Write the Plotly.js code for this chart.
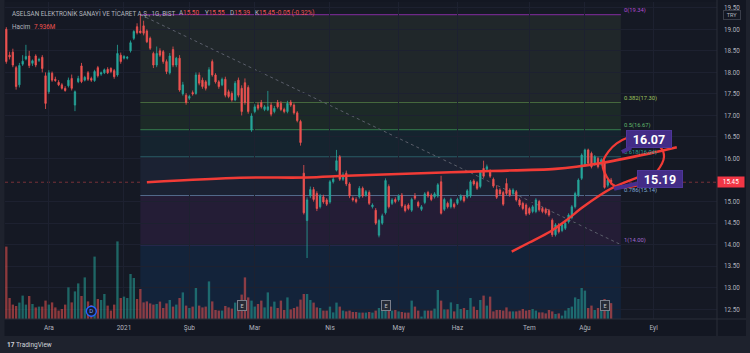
<!DOCTYPE html>
<html><head><meta charset="utf-8">
<script src="https://cdn.plot.ly/plotly-3.0.1.min.js"></script>
<style>html,body{margin:0;padding:0;background:#131722;overflow:hidden}#chart{width:750px;height:353px}</style>
</head><body><div id="chart"></div>
<script>
// ---------- DATA ----------
const startDate = '2020-11-12';
const endDate = '2021-09-30';
const holidays = ['2021-01-01','2021-04-23','2021-05-13','2021-05-14','2021-05-19','2021-07-15','2021-07-20','2021-07-21','2021-07-22','2021-07-23','2021-08-30'];
const monthKeys = ['2020-12','2021-01','2021-02','2021-03','2021-04','2021-05','2021-06','2021-07','2021-08','2021-09'];
const monthLabels = ['Ara','2021','Şub','Mar','Nis','May','Haz','Tem','Ağu','Eyl'];

const openP = [19.00,18.40,18.47,18.11,17.71,18.19,18.31,18.38,18.21,18.38,
18.28,18.35,17.92,17.55,17.98,17.84,17.77,17.71,17.63,17.69,
17.86,17.24,17.785,18.15,17.82,17.99,17.86,17.81,18.11,17.96,
17.99,18.07,18.09,18.04,17.94,18.40,18.33,18.33,18.50,18.79,
19.06,18.96,19.08,18.96,18.79,18.44,18.17,18.50,18.48,18.25,
17.99,18.53,18.17,18.33,17.50,17.47,17.40,17.53,17.51,17.94,
17.82,17.78,17.71,18.25,17.94,17.78,17.71,17.84,17.55,17.51,
17.36,17.82,17.63,17.76,17.65,16.66,17.09,17.24,17.30,17.14,
17.13,17.24,17.09,17.30,17.28,17.14,17.09,17.31,17.24,17.06,
16.86,15.66,14.56,15.13,15.28,15.19,14.88,15.11,15.04,14.99,
15.46,15.73,16.04,15.52,15.66,15.41,15.08,15.05,15.11,15.31,
15.15,15.21,14.88,14.80,14.22,14.50,14.74,15.35,14.96,15.05,
15.04,15.15,14.90,14.92,14.80,15.13,14.98,14.82,14.98,15.21,
15.15,15.11,15.13,15.46,14.82,14.96,14.88,14.94,14.96,15.05,
15.11,15.11,15.13,15.48,15.44,15.35,15.77,15.75,15.70,15.52,
15.28,15.27,15.21,15.42,15.27,15.19,15.23,15.04,14.96,14.92,
14.84,14.77,14.77,15.00,14.84,14.82,14.79,14.57,14.23,14.46,
14.33,14.38,14.53,14.63,14.88,15.15,15.54,15.85,16.20,16.12,
15.87,16.00,15.87,15.93,15.38,15.50];
const highP = [19.05,18.48,18.55,18.15,18.22,18.40,18.64,18.50,18.30,18.42,
18.34,18.40,18.00,18.05,18.02,17.90,17.82,17.75,17.68,17.88,
17.95,17.58,17.92,18.22,17.92,18.03,17.90,18.06,18.15,18.02,
18.09,18.12,18.12,18.08,18.64,18.46,18.40,18.38,18.74,18.98,
19.14,19.34,19.20,19.00,18.83,18.48,18.60,18.56,18.52,18.30,
18.45,18.60,18.36,18.40,17.78,17.52,17.48,17.58,18.00,18.00,
17.88,17.82,18.12,18.30,17.98,17.82,17.88,17.90,17.60,17.56,
17.80,17.88,17.70,17.86,17.70,17.05,17.26,17.30,17.36,17.24,
17.57,17.30,17.22,17.36,17.33,17.18,17.34,17.36,17.28,17.10,
16.90,15.85,15.10,15.35,15.34,15.24,15.18,15.16,15.08,15.50,
15.60,16.20,16.08,15.68,15.72,15.45,15.12,15.10,15.36,15.35,
15.27,15.26,14.96,14.85,14.60,14.72,15.54,15.40,15.08,15.10,
15.17,15.20,14.94,14.96,15.09,15.20,15.02,14.92,15.22,15.25,
15.19,15.22,15.43,15.60,15.09,15.00,15.09,14.98,15.09,15.17,
15.15,15.29,15.50,15.52,15.48,15.73,15.95,15.86,15.75,15.56,
15.38,15.31,15.25,15.54,15.31,15.31,15.27,15.08,15.00,14.96,
14.88,14.92,15.08,15.04,14.88,14.86,14.83,14.61,14.50,14.50,
14.50,14.54,14.73,14.92,15.23,15.54,16.12,16.23,16.23,16.16,
16.08,16.04,16.01,15.98,15.55,15.55];
const lowP = [18.20,18.30,18.12,17.60,17.65,18.15,18.28,18.10,18.15,18.12,
18.24,18.00,17.15,17.50,17.78,17.78,17.68,17.60,17.55,17.65,
17.58,17.10,17.75,17.75,17.79,17.80,17.78,17.78,17.88,17.92,
17.96,17.96,17.98,17.85,17.90,18.20,18.30,18.30,18.46,18.75,
18.88,18.90,18.86,18.68,18.52,18.10,18.12,18.36,18.20,17.96,
17.95,18.12,18.12,17.55,17.46,17.25,17.36,17.46,17.48,17.70,
17.62,17.58,17.68,17.90,17.74,17.62,17.68,17.42,17.40,17.32,
17.33,17.42,17.00,17.25,17.04,16.62,17.05,17.12,17.16,17.10,
17.10,16.98,17.05,17.16,17.10,17.05,17.05,17.20,17.02,16.84,
16.30,14.70,13.69,15.08,15.00,14.78,14.84,14.95,14.90,14.95,
15.42,15.70,15.48,15.48,15.36,15.08,15.00,14.96,15.07,15.09,
15.11,14.92,14.84,14.46,14.17,14.46,14.70,14.84,14.92,14.96,
15.00,14.86,14.75,14.80,14.76,15.04,14.86,14.78,14.94,15.09,
15.01,15.07,15.09,14.70,14.78,14.84,14.84,14.84,14.92,15.01,
14.98,15.07,15.09,15.37,15.27,15.31,15.55,15.71,15.55,15.32,
15.06,15.14,14.90,15.15,15.11,15.15,15.00,14.88,14.80,14.67,
14.69,14.73,14.73,14.77,14.73,14.70,14.65,14.18,14.19,14.26,
14.29,14.34,14.49,14.59,14.84,15.11,15.50,15.81,15.85,15.77,
15.83,15.77,15.83,15.30,15.33,15.39];
const closeP = [18.25,18.36,18.17,17.67,18.16,18.26,18.37,18.16,18.27,18.17,
18.30,18.09,17.28,17.99,17.82,17.81,17.71,17.63,17.58,17.82,
17.63,17.55,17.86,17.785,17.885,17.84,17.82,18.02,17.92,17.99,
18.06,17.99,18.02,17.90,18.44,18.25,18.37,18.35,18.69,18.95,
18.92,18.92,18.91,18.71,18.56,18.17,18.44,18.40,18.25,18.02,
18.38,18.17,18.33,17.59,17.71,17.30,17.44,17.50,17.94,17.75,
17.67,17.63,18.06,17.94,17.78,17.67,17.84,17.47,17.44,17.36,
17.75,17.47,17.09,17.30,17.09,16.99,17.20,17.17,17.20,17.20,
17.20,17.03,17.165,17.20,17.14,17.09,17.28,17.24,17.06,16.88,
16.37,14.74,15.04,15.28,15.05,14.84,15.13,14.99,14.94,15.46,
15.52,15.95,15.52,15.62,15.41,15.13,15.04,15.00,15.31,15.13,
15.23,14.96,14.92,14.50,14.56,14.67,15.49,14.88,15.04,15.00,
15.13,14.90,14.79,14.84,15.05,15.08,14.90,14.88,15.18,15.13,
15.05,15.18,15.39,14.73,15.05,14.88,15.05,14.88,15.05,15.13,
15.02,15.25,15.46,15.41,15.31,15.69,15.59,15.81,15.59,15.36,
15.10,15.18,14.94,15.19,15.15,15.27,15.04,14.92,14.84,14.71,
14.73,14.88,15.04,14.81,14.77,14.74,14.69,14.23,14.46,14.30,
14.46,14.50,14.69,14.88,15.19,15.50,16.08,16.20,15.89,15.81,
16.04,15.81,15.97,15.33,15.50,15.45];
// volume, millions
const volumeM = [36.2,10.5,7.2,6.5,8.2,11.7,7.2,11.5,7.5,5.8,
6.2,6.2,9.2,7.2,8.3,5.8,4.2,5.0,7.2,15.8,
8.3,13.8,17.8,11.5,20.8,8.8,7.0,31.2,10.0,9.5,
12.5,6.7,4.2,7.2,38.8,10.5,11.2,10.5,22.5,20.5,
10.0,15.0,8.3,8.8,7.8,7.2,7.5,8.7,5.5,7.8,
9.5,6.2,7.2,10.5,13.3,6.7,5.5,6.2,15.5,6.7,
5.8,6.2,18.8,8.8,4.5,4.2,4.2,6.5,5.8,5.2,
8.2,7.2,12.2,20.8,10.8,9.2,6.2,7.5,9.2,5.8,
13.3,6.2,8.7,5.5,9.2,4.5,10.8,4.8,5.5,6.2,
9.7,12.5,12.5,9.5,8.2,5.8,5.5,4.2,4.2,6.2,
3.3,8.2,6.2,4.2,3.8,4.2,3.5,3.5,3.2,3.2,
3.2,3.5,3.2,4.2,5.5,7.0,9.2,4.8,4.2,4.5,
3.8,3.5,3.2,3.2,9.2,6.2,4.2,1.2,4.2,4.2,
4.2,5.2,14.5,9.2,4.8,4.8,8.3,3.8,7.5,5.0,
5.5,4.5,10.5,6.2,4.5,9.5,11.7,6.7,11.2,3.8,
4.5,4.5,4.2,5.8,3.8,3.8,3.8,4.2,5.0,4.2,
4.5,5.0,4.2,3.3,3.3,2.8,4.5,3.8,2.5,2.8,
1.7,4.2,5.5,6.2,10.8,10.0,15.5,14.2,5.5,6.7,
4.5,5.5,6.0,10.0,6.0,7.936];

// Fibonacci retracement drawing
const fibHigh = 19.34;
const fibLow = 14.00;
const fibStartDate = '2021-01-11';
const fibEndDate = '2021-08-17';
const fibLevels = [0, 0.382, 0.5, 0.618, 0.786, 1, 1.618];
const fibLineColors = ['#6e2888','#45683d','#2f6a45','#2a5c66','#52698a','#5e3480','#34508a'];
const fibFillColors = ['#20272a','#1c2a27','#15242f','#1b2233','#241d36','#13233a'];
const fibLabelColors = ['#b24ad0','#9fc25c','#62b96c','#2f9c93','#7ea8d6','#a068cc'];

// hand-drawn red brush lines (date index, price)
const brushLineX = [43, 71.5, 92, 104, 136, 148, 168, 181.6, 196.9, 205.1];
const brushLineY = [15.45, 15.555, 15.56, 15.60, 15.68, 15.71, 15.76, 15.89, 16.12, 16.26];
const brushCurveX = [154.6, 160, 166.3, 171, 176.5, 181, 185.7, 192.8, 197];
const brushCurveY = [13.84, 14.05, 14.30, 14.55, 14.88, 15.12, 15.33, 15.55, 15.66];
const brushLoopX = [182.63, 186.72, 192.84, 199.97, 201.19, 198.96, 194.86, 188.74, 185.68, 183.67, 182.44, 182.63];
const brushLoopY = [15.966, 16.354, 16.507, 16.275, 16.042, 15.694, 15.425, 15.332, 15.386, 15.578, 15.810, 15.966];

// callouts
const calloutLabels = ['16.07', '15.19'];
const calloutTipX = [188.3, 185.9];
const calloutTipY = [16.15, 15.30];

const dividendDates = ['2020-12-18'];
const earningsDates = ['2021-02-23', '2021-04-27', '2021-08-10'];

const symbolTitle = 'ASELSAN ELEKTRONİK SANAYİ VE TİCARET A.Ş., 1G, BIST';
const ohlcKeys = ['A', 'Y', 'D', 'K'];
const ohlcValues = ['15.50', '15.55', '15.39', '15.45'];
const lastChange = '-0.05 (-0.32%)';
const volumeLabel = 'Hacim';
const lastVolumeText = '7.936M';

// ---------- BUILD ----------
function buildDates(start, end, hol) {
  const out = [];
  const d = new Date(start + 'T00:00:00Z');
  const e = new Date(end + 'T00:00:00Z');
  while (d <= e) {
    const dow = d.getUTCDay();
    const s = d.toISOString().slice(0, 10);
    if (dow !== 0 && dow !== 6 && !hol.includes(s)) out.push(s);
    d.setUTCDate(d.getUTCDate() + 1);
  }
  return out;
}
const dates = buildDates(startDate, endDate, holidays);
const N = closeP.length;
const idx = closeP.map((_, i) => i);
const tickIdx = monthKeys.map(k => dates.findIndex(d => d.startsWith(k)));
const lastClose = closeP[N - 1];
const yTicks = [];
for (let v = 12.5; v <= 19.5001; v += 0.5) { if (Math.abs(v - lastClose) > 0.12) yTicks.push(+v.toFixed(2)); }

const UP = '#26a69a', DOWN = '#ef5350';
const FONT = 'Roboto, "Open Sans", sans-serif';
const px2paperX = p => (p - 5) / 712;
const px2paperY = p => (319 - p) / 317;

const volColors = closeP.map((c, i) => c >= openP[i] ? 'rgba(38,166,154,0.55)' : 'rgba(239,83,80,0.55)');

const data = [
  {type:'candlestick', x:idx, open:openP, high:highP, low:lowP, close:closeP,
   xaxis:'x', yaxis:'y', hoverinfo:'skip', whiskerwidth:0,
   increasing:{line:{color:UP, width:0.8}, fillcolor:UP},
   decreasing:{line:{color:DOWN, width:0.8}, fillcolor:DOWN}},
  {type:'scatter', mode:'lines', x:brushLineX, y:brushLineY, hoverinfo:'skip',
   line:{color:'#f23b36', width:2.6, shape:'spline', smoothing:0.8}},
  {type:'scatter', mode:'lines', x:brushCurveX, y:brushCurveY, hoverinfo:'skip',
   line:{color:'#f23b36', width:2.4, shape:'spline', smoothing:0.8}},
  {type:'scatter', mode:'lines', x:brushLoopX, y:brushLoopY, hoverinfo:'skip',
   line:{color:'#f23b36', width:2.2, shape:'spline', smoothing:1}},
  {type:'bar', x:idx, y:volumeM, xaxis:'x', yaxis:'y2', hoverinfo:'skip',
   marker:{color:volColors, line:{width:0}}},
  {type:'scatter', mode:'markers+text', x:dividendDates.map(d => dates.indexOf(d)), y:[3.9],
   xaxis:'x', yaxis:'y2', text:['D'], textposition:'middle center', hoverinfo:'skip',
   textfont:{family:FONT, size:6, color:'#7aa0ff'},
   marker:{symbol:'circle', size:10, color:'#131a33', line:{color:'#2962ff', width:1.4}}}
];

const shapes = [];
const fibX0 = dates.indexOf(fibStartDate), fibX1 = dates.indexOf(fibEndDate);
const fibPrice = l => fibHigh - l * (fibHigh - fibLow);
for (let k = 0; k < fibLevels.length - 1; k++) {
  shapes.push({type:'rect', xref:'x', yref:'y', layer:'below', x0:fibX0, x1:fibX1,
    y0:fibPrice(fibLevels[k]), y1:fibPrice(fibLevels[k+1]), fillcolor:fibFillColors[k], line:{width:0}});
}
fibLevels.forEach((l, k) => {
  shapes.push({type:'line', xref:'x', yref:'y', layer:'below', x0:fibX0, x1:fibX1,
    y0:fibPrice(l), y1:fibPrice(l), line:{color:fibLineColors[k], width:1.1}});
});
shapes.push({type:'line', xref:'x', yref:'y', layer:'below', x0:fibX0, x1:fibX1,
  y0:fibHigh, y1:fibLow, line:{color:'#5a5e6a', width:1, dash:'dot'}});
shapes.push({type:'line', xref:'paper', yref:'y', layer:'below', x0:0, x1:1,
  y0:lastClose, y1:lastClose, line:{color:'rgba(239,83,80,0.45)', width:1, dash:'dot'}});
shapes.push({type:'rect', xref:'paper', yref:'paper', layer:'below', x0:px2paperX(-2), x1:px2paperX(4.5), y0:px2paperY(360), y1:px2paperY(-5), fillcolor:'#1e222d', line:{width:0}});
shapes.push({type:'rect', xref:'paper', yref:'paper', layer:'below', x0:px2paperX(746), x1:px2paperX(755), y0:px2paperY(360), y1:px2paperY(-5), fillcolor:'#1e222d', line:{width:0}});
shapes.push({type:'rect', xref:'paper', yref:'paper', layer:'below', x0:px2paperX(-2), x1:px2paperX(755), y0:px2paperY(360), y1:px2paperY(336), fillcolor:'#1e222d', line:{width:0}});
shapes.push({type:'line', xref:'paper', yref:'paper', layer:'above', x0:1, x1:1, y0:px2paperY(336), y1:px2paperY(-2), line:{color:'#2a2e39', width:1}});
shapes.push({type:'line', xref:'paper', yref:'paper', layer:'above', x0:px2paperX(4.5), x1:px2paperX(746), y0:0, y1:0, line:{color:'#2a2e39', width:1}});

const annotations = [];
const red = s => `<span style="color:${DOWN}">${s}</span>`;
const headFont = {family:FONT, size:6.3, color:'#b2b5be'};
annotations.push({xref:'paper', yref:'paper', x:px2paperX(10), y:px2paperY(13), xanchor:'left', yanchor:'middle', showarrow:false,
  font:headFont, text:symbolTitle});
const ohlcPx = [176.5, 202.5, 228, 252.5];
ohlcKeys.forEach((k, i) => {
  annotations.push({xref:'paper', yref:'paper', x:px2paperX(ohlcPx[i]), y:px2paperY(13), xanchor:'left', yanchor:'middle', showarrow:false,
    font:headFont, text:k + red(ohlcValues[i])});
});
annotations.push({xref:'paper', yref:'paper', x:px2paperX(274), y:px2paperY(13), xanchor:'left', yanchor:'middle', showarrow:false,
  font:headFont, text:red(lastChange)});
annotations.push({xref:'paper', yref:'paper', x:px2paperX(10), y:px2paperY(27), xanchor:'left', yanchor:'middle', showarrow:false,
  font:headFont, text:volumeLabel});
annotations.push({xref:'paper', yref:'paper', x:px2paperX(32), y:px2paperY(27), xanchor:'left', yanchor:'middle', showarrow:false,
  font:headFont, text:red(lastVolumeText)});
fibLevels.slice(0, 6).forEach((l, k) => {
  annotations.push({xref:'x', yref:'y', x:fibX1, y:fibPrice(l), xanchor:'left', yanchor:'bottom', xshift:1, yshift:-1,
    showarrow:false, font:{family:FONT, size:5.8, color:fibLabelColors[k]},
    text: String(l) + '(' + fibPrice(l).toFixed(2) + ')'});
});
const calloutOffsets = [[27, -13], [46, -10]];
calloutLabels.forEach((t, k) => {
  annotations.push({xref:'x', yref:'y', x:calloutTipX[k], y:calloutTipY[k], ax:calloutOffsets[k][0], ay:calloutOffsets[k][1],
    showarrow:true, arrowhead:0, arrowwidth:4, arrowcolor:'#472f8e', standoff:0,
    text:'<b>' + t + '</b>', font:{family:FONT, size:12.5, color:'#ffffff'},
    bgcolor:'#432c87', bordercolor:'#4d3699', borderwidth:1, borderpad:0, width:44, height:16});
});
earningsDates.forEach(d => {
  annotations.push({xref:'x', yref:'paper', x:dates.indexOf(d), y:px2paperY(311), showarrow:false,
    text:'E', font:{family:FONT, size:5.5, color:'#c3c6ce'}, bgcolor:'#262a35', bordercolor:'#7a7e8a', borderwidth:1, borderpad:1, width:6, height:7});
});
annotations.push({xref:'paper', yref:'y', x:px2paperX(717), y:lastClose, xanchor:'left', yanchor:'middle', showarrow:false,
  text:lastClose.toFixed(2), font:{family:FONT, size:6.3, color:'#ffffff'}, bgcolor:'#f23645', borderpad:1, width:24, height:8});
annotations.push({xref:'paper', yref:'paper', x:px2paperX(732), y:px2paperY(15), xanchor:'center', yanchor:'middle', showarrow:false,
  text:'TRY', font:{family:FONT, size:5.5, color:'#b2b5be'}, bgcolor:'#131722', bordercolor:'#3a3e4a', borderwidth:1, borderpad:1, width:14, height:6});
annotations.push({xref:'paper', yref:'paper', x:px2paperX(5), y:px2paperY(344.5), xanchor:'left', yanchor:'middle', showarrow:false,
  text:'<b>17</b> TradingView', font:{family:FONT, size:6.5, color:'#d1d4dc'}});

const layout = {
  width:750, height:353,
  margin:{l:5, r:33, t:2, b:34, pad:0},
  paper_bgcolor:'#131722', plot_bgcolor:'#151924',
  showlegend:false, boxgap:0.4, bargap:0.28,
  font:{family:FONT, color:'#b2b5be'},
  xaxis:{range:[-0.4, 217.4], tickvals:tickIdx, ticktext:monthLabels, showgrid:true, gridcolor:'#1d2130', gridwidth:1,
    zeroline:false, ticks:'', ticklabelstandoff:3, tickfont:{family:FONT, size:6.5, color:'#b2b5be'},
    rangeslider:{visible:false}, fixedrange:true, showline:false},
  yaxis:{side:'right', range:[12.2748, 19.6338], tickvals:yTicks, tickformat:'.2f', showgrid:true, gridcolor:'#1d2130',
    zeroline:false, ticks:'', ticklabelstandoff:6, tickfont:{family:FONT, size:6.3, color:'#b2b5be'}, fixedrange:true},
  yaxis2:{overlaying:'y', range:[0, 158.5], visible:false, fixedrange:true},
  shapes:shapes, annotations:annotations
};
Plotly.newPlot('chart', data, layout, {staticPlot:true, displayModeBar:false});
</script></body></html>
